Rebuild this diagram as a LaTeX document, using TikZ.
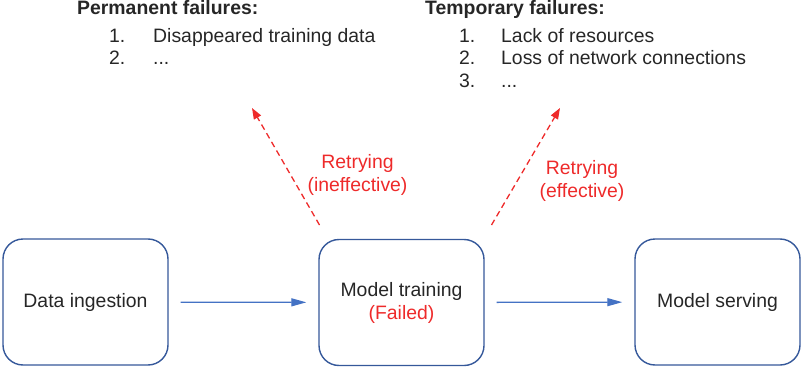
\documentclass[tikz,border=0pt]{standalone}
\usepackage{fontspec}
\setmainfont{Liberation Sans}
\usetikzlibrary{arrows.meta}
\definecolor{boxblue}{HTML}{35589A}
\definecolor{arrblue}{HTML}{4472C4}
\definecolor{failred}{HTML}{EE2A2A}
\begin{document}
\begin{tikzpicture}[x=1pt,y=-1pt,
  every node/.style={font=\fontsize{19.4}{23}\selectfont, text=black!85},
  stage/.style={draw=boxblue, line width=1.4pt, rounded corners=20pt,
    minimum width=165pt, minimum height=126pt, align=center, inner sep=0pt},
  flow/.style={draw=arrblue, line width=1.3pt, -{Triangle[length=15pt,width=8pt]},
    shorten <=12pt, shorten >=12pt},
  retry/.style={draw=failred, line width=1.3pt, dash pattern=on 6pt off 4pt,
    -{Triangle[length=11pt,width=8pt]}},
  rlabel/.style={text=failred, align=center, inner sep=0pt},
  txt/.style={anchor=base west, inner sep=0pt},
  hdr/.style={txt, font=\fontsize{19.4}{23}\selectfont\bfseries}
]
\useasboundingbox (0,0) rectangle (803,369);
\node[stage] (ing) at (85.5,302) {Data ingestion};
\node[stage] (train) at (401.5,302.5) {Model training\\\textcolor{failred}{(Failed)}};
\node[stage] (serve) at (717.5,302) {Model serving};
\draw[flow] (ing) -- (train);
\draw[flow] (train) -- (serve);
% retry arrows
\coordinate (s1) at (319.5,225);
\coordinate (e1) at (252,108);
\coordinate (s2) at (491.5,225);
\coordinate (e2) at (560,108);
\draw[retry] (s1) -- (e1);
\draw[retry] (s2) -- (e2);
\node[rlabel] (r1) at (357.5,174.5) {Retrying\\(ineffective)};
\node[rlabel] (r2) at (582,181) {Retrying\\(effective)};
% permanent failures
\node[hdr] (ph) at (77,15) {Permanent failures:};
\node[txt] (pn1) at (109,42.5) {1.};
\node[txt] (pt1) at (153,42.5) {Disappeared training data};
\node[txt] (pn2) at (109,65) {2.};
\node[txt] (pt2) at (153,65) {...};
% temporary failures
\node[hdr] (th) at (425,15) {Temporary failures:};
\node[txt] (tn1) at (459,42.5) {1.};
\node[txt] (tt1) at (501,42.5) {Lack of resources};
\node[txt] (tn2) at (459,65) {2.};
\node[txt] (tt2) at (501,65) {Loss of network connections};
\node[txt] (tn3) at (459,87.5) {3.};
\node[txt] (tt3) at (501,87.5) {...};
\end{tikzpicture}
\end{document}
